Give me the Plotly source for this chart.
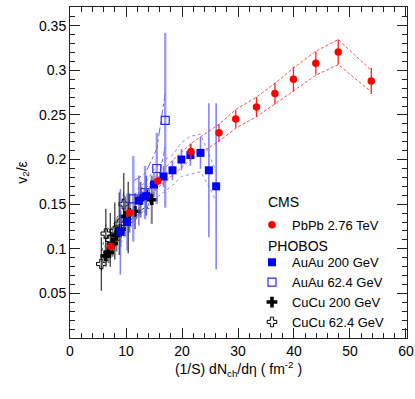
import plotly.graph_objects as go

# CMS PbPb 2.76 TeV
cms_x = [7.3, 10.6, 15.7, 21.6, 26.6, 29.6, 33.3, 36.6, 39.9, 43.9, 47.9, 53.8]
cms_y = [0.1025, 0.1405, 0.176, 0.209, 0.230, 0.2456, 0.259, 0.274, 0.290, 0.308, 0.3205, 0.288]
cms_stat = [0.004, 0.005, 0.005, 0.009, 0.010, 0.010, 0.011, 0.012, 0.014, 0.013, 0.014, 0.0145]
cms_sys = [0.0045, 0.006, 0.0075, 0.009, 0.0095, 0.0105, 0.011, 0.0115, 0.0125, 0.0135, 0.014, 0.012]

# PHOBOS AuAu 200 GeV
au200_x = [9.0, 10.2, 12.3, 13.6, 15.0, 16.7, 18.3, 19.9, 21.5, 23.3, 24.8, 26.1]
au200_y = [0.119, 0.130, 0.154, 0.159, 0.172, 0.181, 0.188, 0.200, 0.205, 0.2075, 0.188, 0.170]
au200_err = [0.048, 0.032, 0.028, 0.022, 0.014, 0.012, 0.011, 0.012, 0.012, 0.018, 0.075, 0.093]
au200_sys = [0.012, 0.013, 0.015, 0.016, 0.017, 0.018, 0.017, 0.019, 0.021, 0.021, 0.018, 0.017]

# PHOBOS AuAu 62.4 GeV
au62_x = [11.3, 13.4, 15.5, 17.0]
au62_y = [0.156, 0.163, 0.190, 0.244]
au62_err = [0.048, 0.03, 0.04, 0.098]
au62_sys = [0.02, 0.021, 0.022, 0.03]

# PHOBOS CuCu 200 GeV
cu200_x = [6.4, 6.9, 7.6, 8.3, 9.0, 9.8, 10.6, 11.6, 12.6, 13.6, 14.6]
cu200_y = [0.092, 0.096, 0.106, 0.115, 0.122, 0.136, 0.140, 0.142, 0.155, 0.160, 0.155]
cu200_err = [0.012, 0.012, 0.015, 0.018, 0.02, 0.022, 0.022, 0.02, 0.02, 0.022, 0.027]
cu200_sys = [0.007, 0.008, 0.008, 0.009, 0.010, 0.011, 0.011, 0.011, 0.012, 0.013, 0.012]

# PHOBOS CuCu 62.4 GeV
cu62_x = [5.6, 6.4, 7.2, 8.0, 8.8, 9.6, 10.4]
cu62_y = [0.083, 0.117, 0.110, 0.120, 0.128, 0.150, 0.135]
cu62_err = [0.030, 0.028, 0.030, 0.032, 0.035, 0.035, 0.04]
cu62_sys = [0.008, 0.010, 0.010, 0.011, 0.012, 0.013, 0.012]

FONT = 'Liberation Sans'
fig = go.Figure()


def band(x, y, s, color, dash, width=1):
    for sign in (1, -1):
        fig.add_trace(go.Scatter(
            x=x, y=[v + sign * e for v, e in zip(y, s)],
            mode='lines', line=dict(color=color, dash=dash, width=width),
            showlegend=False, hoverinfo='skip'))


band(cu62_x, cu62_y, cu62_sys, 'rgba(60,60,60,0.8)', 'dot')
band(cu200_x, cu200_y, cu200_sys, 'rgba(0,0,0,0.8)', 'dot')
band(au62_x, au62_y, au62_sys, 'rgba(60,60,255,0.8)', 'dashdot')
band(au200_x, au200_y, au200_sys, 'rgba(110,110,255,0.8)', 'dot')
band(cms_x, cms_y, cms_sys, 'rgba(255,60,60,0.9)', '3px,2px')

fig.add_trace(go.Scatter(
    x=cu62_x, y=cu62_y, mode='markers', name='CuCu 62.4 GeV',
    marker=dict(symbol='cross-open', size=8, color='black', line=dict(width=1, color='#333')),
    error_y=dict(type='data', array=cu62_err, color='rgba(0,0,0,0.75)', thickness=1.3, width=0),
    legend='legend2', legendrank=5))
fig.add_trace(go.Scatter(
    x=cu200_x, y=cu200_y, mode='markers', name='CuCu 200 GeV',
    marker=dict(symbol='cross', size=9, color='black', line=dict(width=0)),
    error_y=dict(type='data', array=cu200_err, color='rgba(90,90,90,0.8)', thickness=2, width=0),
    legend='legend2', legendrank=4))
fig.add_trace(go.Scatter(
    x=au62_x, y=au62_y, mode='markers', name='AuAu 62.4 GeV',
    marker=dict(symbol='square-open', size=8, color='#2a2aff', line=dict(width=1.2)),
    error_y=dict(type='data', array=au62_err, color='rgba(120,120,255,0.75)', thickness=2.4, width=0),
    legend='legend2', legendrank=3))
fig.add_trace(go.Scatter(
    x=au200_x, y=au200_y, mode='markers', name='AuAu 200 GeV',
    marker=dict(symbol='square', size=8, color='#0000ff', line=dict(width=0)),
    error_y=dict(type='data', array=au200_err, color='rgba(90,90,255,0.75)', thickness=1.6, width=0),
    legend='legend2', legendrank=2))
fig.add_trace(go.Scatter(
    x=cms_x, y=cms_y, mode='markers', name='PbPb 2.76 TeV',
    marker=dict(symbol='circle', size=7.5, color='#ff0000', line=dict(width=0)),
    error_y=dict(type='data', array=cms_stat, color='#ff2020', thickness=1.3, width=0),
    legend='legend', legendrank=1))

axis_common = dict(
    showline=True, linecolor='#222', linewidth=1, mirror='allticks',
    ticks='inside', ticklen=10, tickcolor='#222', tickwidth=1,
    showgrid=False, zeroline=False,
    tickfont=dict(size=14, family=FONT, color='black'),
)

fig.update_xaxes(
    range=[0, 60.18], dtick=10, tick0=0,
    minor=dict(dtick=2, ticks='inside', ticklen=5, tickcolor='#222', showgrid=False),
    title=dict(text='(1/S) dN<sub>ch</sub>/dη ( fm<sup>-2</sup> )',
               font=dict(size=14, family=FONT, color='black'), standoff=6),
    **axis_common)
fig.update_yaxes(
    range=[0, 0.371], tickvals=[0.05, 0.1, 0.15, 0.2, 0.25, 0.3, 0.35],
    ticktext=['0.05', '0.1', '0.15', '0.2', '0.25', '0.3', '0.35'],
    minor=dict(dtick=0.01, tick0=0, ticks='inside', ticklen=5, tickcolor='#222', showgrid=False),
    title=dict(text='v<sub>2</sub>/ε', font=dict(size=14, family=FONT, color='black'), standoff=8),
    **axis_common)

legend_common = dict(
    xanchor='left', yanchor='top', bgcolor='rgba(0,0,0,0)',
    itemwidth=30, tracegroupgap=0,
    font=dict(size=13, family=FONT, color='black'),
)
fig.update_layout(
    width=415, height=399,
    margin=dict(l=70, r=8, t=7, b=61, autoexpand=False),
    plot_bgcolor='white', paper_bgcolor='white',
    font=dict(family=FONT, size=14, color='black'),
    legend=dict(x=0.54, y=0.387, **legend_common),
    legend2=dict(x=0.54, y=0.274, **legend_common),
)
for label, ypos in [('CMS', 0.411), ('PHOBOS', 0.278)]:
    fig.add_annotation(text=label, xref='paper', yref='paper', x=0.5816, y=ypos,
                       xanchor='left', yanchor='middle', showarrow=False,
                       font=dict(size=14, family=FONT, color='black'))

# drop the default page margin so the figure sits at the window's corner
fig.write_html('out.html', config={'displayModeBar': False},
               post_script="document.body.style.margin='0';")
